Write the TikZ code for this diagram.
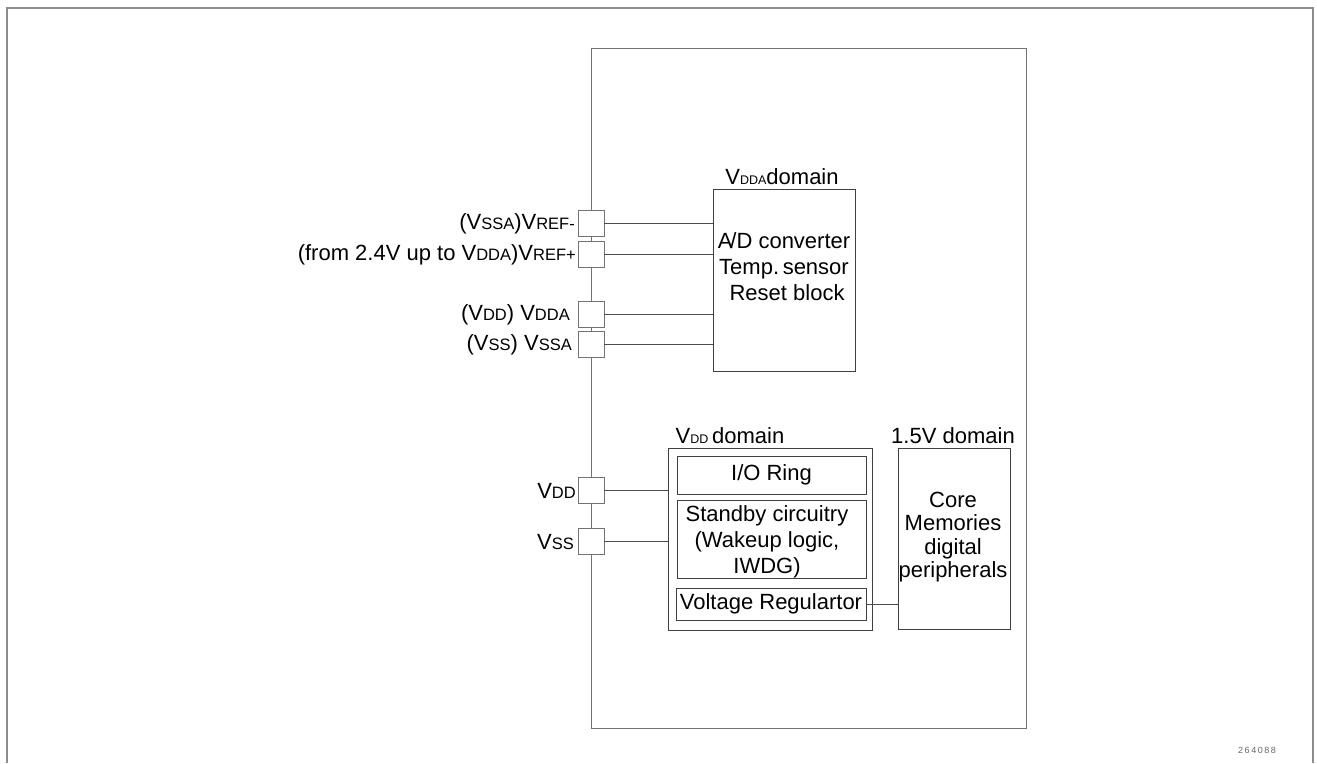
\documentclass[tikz,border=0pt]{standalone}
\usepackage{fontspec}
\setmainfont{Liberation Sans}
\usetikzlibrary{positioning}

\newcommand{\Vsub}[1]{V{\fontsize{16.5}{16.5}\selectfont #1}}
\newcommand{\Vsubt}[1]{V{\fontsize{12.5}{12.5}\selectfont #1}}

\begin{document}
\begin{tikzpicture}[x=1pt, y=-1pt, font=\fontsize{22}{26}\selectfont]
  \tikzset{
    wire/.style={draw=black!70, line width=0.8pt},
    box/.style={draw=black!75, line width=0.8pt, inner sep=0pt},
    pad/.style={draw=black!55, fill=white, line width=0.8pt, minimum size=26pt, inner sep=0pt},
    lbl/.style={draw=none, fill=none, inner sep=0pt, anchor=east},
    ttl/.style={draw=none, fill=none, inner sep=0pt, anchor=center}
  }
  \useasboundingbox (0,0) rectangle (1317,763);

  % — outer frame —
  \draw[black!45, line width=1.5pt] (7,763) -- (7,8) -- (1313,8) -- (1313,763);

  % — chip outline —
  \node[box, draw=black!55, minimum width=435pt, minimum height=680pt] (chip) at (808.5,388) {};

  % — VDDA domain —
  \node[box, minimum width=142pt, minimum height=182pt] (adc) at (784,280) {};
  \node[ttl] (adcttl) at (782,177) {\Vsubt{DDA}domain};
  \node[ttl, align=center] (adctxt) at (784,267) {A\kern-2pt/D converter\\Temp.\,sensor\\\ Reset block};

  % — VDD domain —
  \node[box, minimum width=204pt, minimum height=182pt] (vdddom) at (770,539) {};
  \node[ttl] (vddttl) at (730,436) {\Vsubt{DD}\,domain};
  \node[box, minimum width=189pt, minimum height=38pt] (io) at (771.5,475) {I/O Ring};
  \node[box, minimum width=189pt, minimum height=78pt] (stby) at (771.5,539) {};
  \node[ttl, align=center] (stbytxt) at (767,542) {Standby circuitry\\(Wakeup logic,\\IWDG)};
  \node[box, minimum width=190pt, minimum height=32pt] (vreg) at (771,604) {Voltage Regulartor};

  % — 1.5V domain —
  \node[box, minimum width=112pt, minimum height=181pt] (core) at (954,538.5) {};
  \node[ttl] (corettl) at (953,436) {1.5V domain};
  \node[ttl, align=center, font=\fontsize{22}{23.5}\selectfont] (coretxt) at (953,537) {Core\\Memories\\digital\\peripherals};

  % — pads on the chip edge —
  \foreach \n/\y in {refm/223, refp/254, vdda/314, vssa/344, vdd/490, vss/541} {
    \node[pad] (\n) at (591,\y) {};
  }
  \node[lbl] (refmlbl) at (575,224) {(\Vsub{SSA})\Vsub{REF-}};
  \node[lbl] (refplbl) at (576,255) {(from 2.4V up to \Vsub{DDA})\Vsub{REF+}};
  \node[lbl] (vddalbl) at (570,315) {(\Vsub{DD}) \Vsub{DDA}};
  \node[lbl] (vssalbl) at (572,345) {(\Vsub{SS}) \Vsub{SSA}};
  \node[lbl] (vddlbl) at (576,491) {\Vsub{DD}};
  \node[lbl] (vsslbl) at (574,542) {\Vsub{SS}};

  % wires
  \foreach \n in {refm,refp,vdda,vssa} {
    \draw[wire] (\n.east) -- (\n.east -| adc.west);
  }
  \foreach \n in {vdd,vss} {
    \draw[wire] (\n.east) -- (\n.east -| vdddom.west);
  }
  \draw[wire] (vreg.east) -- (vreg.east -| core.west);

  \node[ttl, text=black!60, font=\fontsize{9}{9}\selectfont] (fig) at (1257,750) {2\,6\,4\,0\,8\,8};
\end{tikzpicture}
\end{document}
